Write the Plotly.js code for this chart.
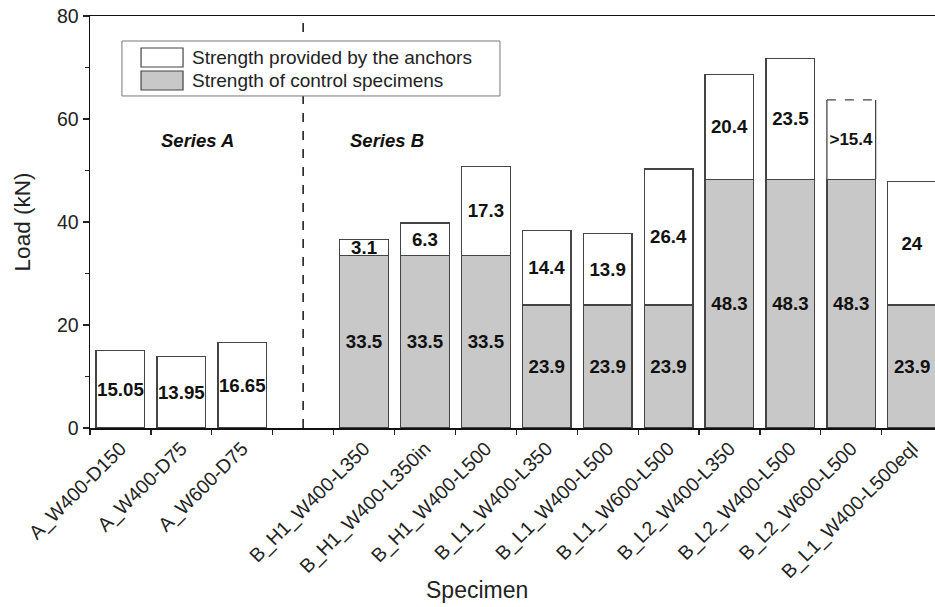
<!DOCTYPE html>
<html>
<head>
<meta charset="utf-8">
<script src="https://cdn.plot.ly/plotly-3.0.1.min.js"></script>
<style>
  html, body { margin: 0; padding: 0; background: #fff; }
  #chart { width: 935px; height: 607px; }
</style>
</head>
<body>
<div id="chart"></div>
<script>
// Specimens (a blank slot separates Series A from Series B)
const specimens = [
  'A_W400-D150', 'A_W400-D75', 'A_W600-D75', ' ',
  'B_H1_W400-L350', 'B_H1_W400-L350in', 'B_H1_W400-L500',
  'B_L1_W400-L350', 'B_L1_W400-L500', 'B_L1_W600-L500',
  'B_L2_W400-L350', 'B_L2_W400-L500', 'B_L2_W600-L500',
  'B_L1_W400-L500eql'
];

// Strength of the control specimens (kN)
const controlStrength = [
  null, null, null, null,
  33.5, 33.5, 33.5,
  23.9, 23.9, 23.9,
  48.3, 48.3, 48.3,
  23.9
];

// Strength provided by the anchors (kN); Series A bars are the full load
const anchorStrength = [
  15.05, 13.95, 16.65, null,
  3.1, 6.3, 17.3,
  14.4, 13.9, 26.4,
  20.4, 23.5, 15.4,
  24
];

// Specimen whose anchor contribution is a lower bound (drawn with a dashed top)
const lowerBoundSpecimen = 'B_L2_W600-L500';

const barWidth = 0.8;
const edgeColor = '#444';
const fontFamily = 'Liberation Sans, Arial, sans-serif';
const lbIdx = specimens.indexOf(lowerBoundSpecimen);

const controlText = controlStrength.map(v => v == null ? '' : String(v));
const anchorText = anchorStrength.map((v, i) =>
  v == null ? '' : (i === lbIdx ? '>' + v : String(v)));
const anchorFontSize = anchorStrength.map((v, i) => i === lbIdx ? 17 : 18.7);
const anchorEdge = anchorStrength.map((v, i) => i === lbIdx ? 'rgba(0,0,0,0)' : edgeColor);

const traces = [
  {
    type: 'bar',
    name: 'Strength of control specimens',
    x: specimens,
    y: controlStrength,
    width: barWidth,
    marker: { color: '#c8c8c8', line: { color: edgeColor, width: 1.3 } },
    text: controlText,
    textposition: 'inside',
    insidetextanchor: 'middle',
    constraintext: 'none',
    textangle: 0,
    textfont: { family: fontFamily, size: 18.7, weight: 'bold', color: '#111' },
    showlegend: false,
    hoverinfo: 'x+y'
  },
  {
    type: 'bar',
    name: 'Strength provided by the anchors',
    x: specimens,
    y: anchorStrength,
    width: barWidth,
    marker: { color: '#ffffff', line: { color: anchorEdge, width: 1.3 } },
    text: anchorText,
    textposition: 'inside',
    insidetextanchor: 'middle',
    constraintext: 'none',
    textangle: 0,
    textfont: { family: fontFamily, size: anchorFontSize, weight: 'bold', color: '#111' },
    showlegend: false,
    hoverinfo: 'x+y'
  }
];

// Outline of the lower-bound bar: solid sides, dashed top
const lbBase = controlStrength[lbIdx] || 0;
const lbTop = lbBase + anchorStrength[lbIdx];
const sepIdx = specimens.indexOf(' ');
const shapes = [
  { type: 'line', xref: 'x', yref: 'y', x0: lbIdx - barWidth / 2, x1: lbIdx - barWidth / 2,
    y0: lbBase, y1: lbTop, line: { color: edgeColor, width: 1.3 } },
  { type: 'line', xref: 'x', yref: 'y', x0: lbIdx + barWidth / 2, x1: lbIdx + barWidth / 2,
    y0: lbBase, y1: lbTop, line: { color: edgeColor, width: 1.3 } },
  { type: 'line', xref: 'x', yref: 'y', x0: lbIdx - barWidth / 2, x1: lbIdx + barWidth / 2,
    y0: lbTop, y1: lbTop, line: { color: edgeColor, width: 1.3, dash: 'dash' } },
  // Separator between the two series
  { type: 'line', xref: 'x', yref: 'paper', x0: sepIdx, x1: sepIdx,
    y0: 0, y1: 1, line: { color: '#222', width: 1.6, dash: 'dash' } },
  // Legend box and swatches
  { type: 'rect', xref: 'paper', yref: 'paper', x0: 0.0378, x1: 0.4852, y0: 0.8059, y1: 0.9393,
    line: { color: '#777', width: 1 }, fillcolor: '#ffffff', layer: 'above' },
  { type: 'rect', xref: 'paper', yref: 'paper', x0: 0.0604, x1: 0.1101, y0: 0.8762, y1: 0.9223,
    line: { color: edgeColor, width: 1.2 }, fillcolor: '#ffffff', layer: 'above' },
  { type: 'rect', xref: 'paper', yref: 'paper', x0: 0.0604, x1: 0.1101, y0: 0.8204, y1: 0.8665,
    line: { color: edgeColor, width: 1.2 }, fillcolor: '#c8c8c8', layer: 'above' }
];

const annotations = [
  { text: 'Strength provided by the anchors', xref: 'paper', yref: 'paper', x: 0.1183, y: 0.8993,
    xanchor: 'left', yanchor: 'middle', showarrow: false,
    font: { family: fontFamily, size: 19, color: '#222' } },
  { text: 'Strength of control specimens', xref: 'paper', yref: 'paper', x: 0.1183, y: 0.8435,
    xanchor: 'left', yanchor: 'middle', showarrow: false,
    font: { family: fontFamily, size: 19, color: '#222' } },
  { text: '<b><i>Series A</i></b>', xref: 'x', yref: 'y', x: 1.26, y: 55.8,
    showarrow: false, font: { family: fontFamily, size: 18.5, color: '#111' } },
  { text: '<b><i>Series B</i></b>', xref: 'x', yref: 'y', x: 4.38, y: 55.8,
    showarrow: false, font: { family: fontFamily, size: 18.5, color: '#111' } },
  { text: 'Specimen', xref: 'paper', yref: 'paper', x: 0.458, y: -0.393,
    xanchor: 'center', yanchor: 'middle', showarrow: false,
    font: { family: fontFamily, size: 23, color: '#222' } }
];

const layout = {
  width: 935,
  height: 607,
  margin: { l: 90, r: 0, t: 16, b: 179 },
  paper_bgcolor: '#ffffff',
  plot_bgcolor: '#ffffff',
  barmode: 'stack',
  bargap: 0.2,
  showlegend: false,
  font: { family: fontFamily, color: '#222' },
  xaxis: {
    type: 'category',
    range: [-0.5, 13.375],
    tickson: 'boundaries',
    ticks: 'outside',
    ticklen: 5,
    tickwidth: 1.2,
    tickcolor: '#222',
    tickangle: -45,
    tickfont: { size: 19.5, color: '#222' },
    showline: true,
    linecolor: '#111',
    linewidth: 1.5,
    mirror: true,
    showgrid: false,
    zeroline: false
  },
  yaxis: {
    range: [0, 80],
    tickvals: [0, 20, 40, 60, 80],
    ticks: 'outside',
    ticklen: 6,
    tickwidth: 1.2,
    tickcolor: '#222',
    tickfont: { size: 19.5, color: '#222' },
    minor: { tickvals: [10, 30, 50, 70], ticks: 'outside', ticklen: 4, tickcolor: '#222' },
    showline: true,
    linecolor: '#111',
    linewidth: 1.5,
    showgrid: false,
    zeroline: false,
    title: { text: 'Load (kN)', font: { size: 22.5, color: '#222' }, standoff: 20 }
  },
  shapes: shapes,
  annotations: annotations
};

Plotly.newPlot('chart', traces, layout, { displayModeBar: false, staticPlot: true });
</script>
</body>
</html>
